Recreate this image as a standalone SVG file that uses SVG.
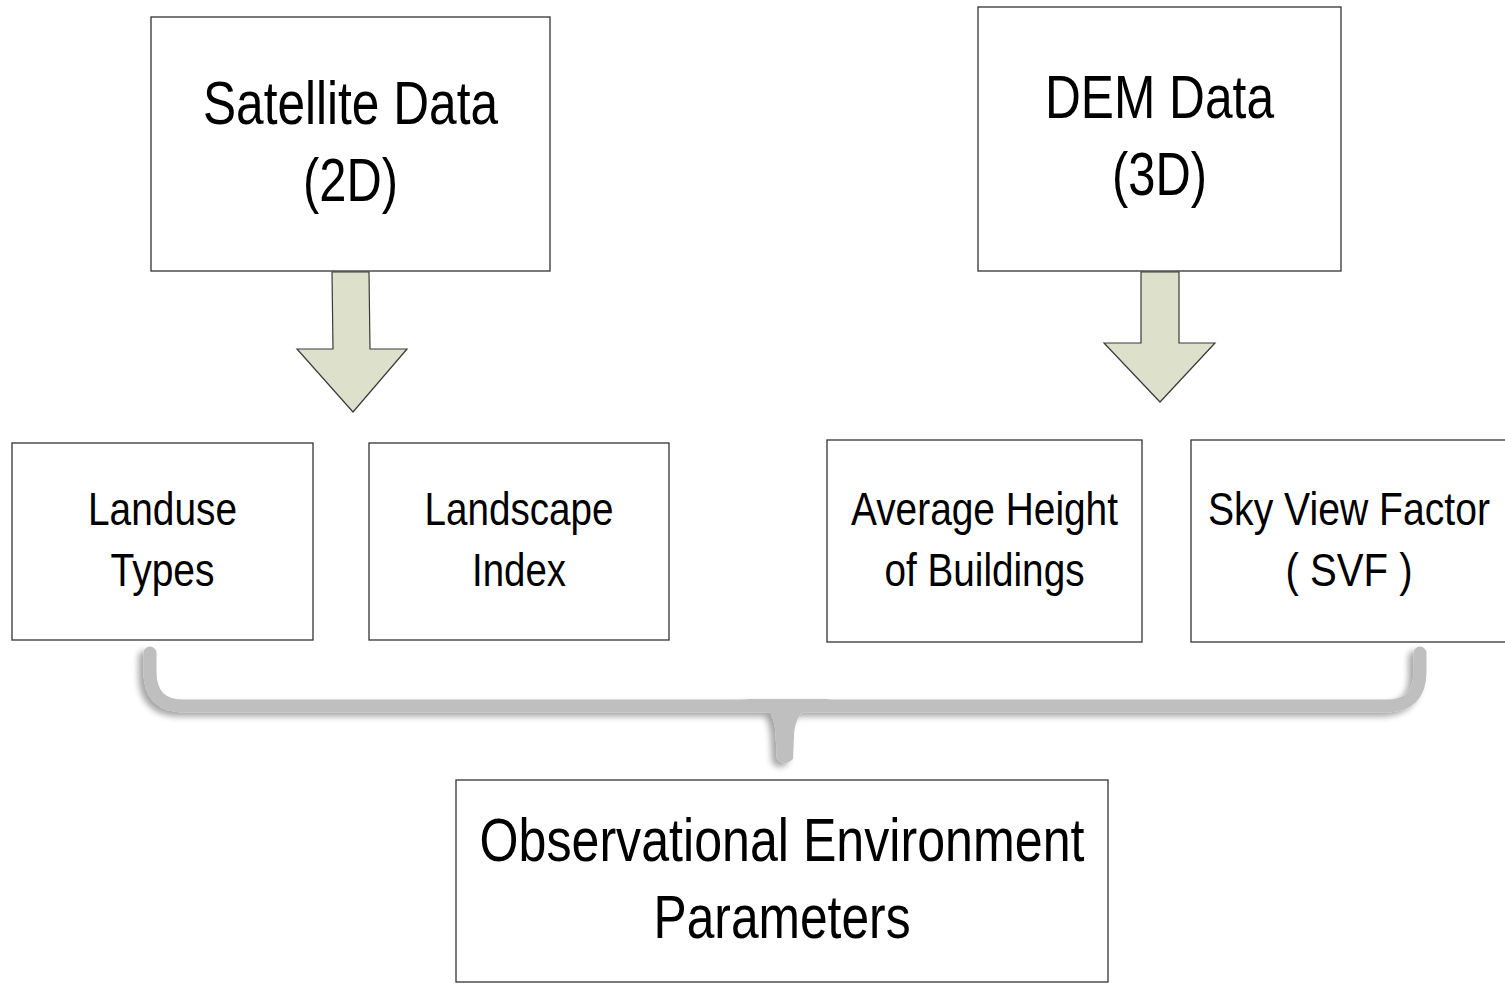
<svg xmlns="http://www.w3.org/2000/svg" width="1505" height="984" viewBox="0 0 1505 984">
<defs>
<style>
.box{fill:#fff;stroke:#333;stroke-width:1.3}
.arrow{fill:#dde0cb;stroke:#3a3a3a;stroke-width:1.2;stroke-linejoin:miter}
.t{font-family:"Liberation Sans Narrow","Liberation Sans",Arial,sans-serif;fill:#000;text-anchor:middle}
.big{font-size:62px}
.mid{font-size:46px}
.obs{font-size:62px}
.brace{fill:none;stroke:#bfbfbf;stroke-width:13;stroke-linecap:round;stroke-linejoin:round}
</style>
<filter id="sh" x="-5%" y="-30%" width="110%" height="160%">
<feGaussianBlur in="SourceAlpha" stdDeviation="3"/>
<feOffset dx="-5" dy="4" result="b"/>
<feComponentTransfer><feFuncA type="linear" slope="0.35"/></feComponentTransfer>
<feMerge><feMergeNode/><feMergeNode in="SourceGraphic"/></feMerge>
</filter>
</defs>
<rect width="1505" height="984" fill="#fff"/>

<g id="connectors">
<path class="arrow" d="M332,272 L369,272 L370,349 L407,349 L353,412 L297,349 L333,349 Z"/>
<path class="arrow" d="M1141,272 L1179,272 L1179,343 L1215,343 L1160,402 L1104,343 L1141,343 Z"/>
<g id="brace" filter="url(#sh)">
<path class="brace" d="M150,653 L150,672 Q150,706 184,706 L1386,706 Q1420,706 1420,672 L1420,653"/>
<path fill="#bfbfbf" d="M738,699 C768,699 776,714 776,742 L777,759 Q785,767 793,759 L794,736 C795,714 806,703 832,699 Z"/>
</g>
</g>

<g id="satellite">
<rect class="box" x="151" y="17" width="399" height="254"/>
<text class="t big" x="350.5" y="124" textLength="295" lengthAdjust="spacingAndGlyphs">Satellite Data</text>
<text class="t big" x="350.5" y="201" textLength="95" lengthAdjust="spacingAndGlyphs">(2D)</text>
</g>

<g id="dem">
<rect class="box" x="978" y="7" width="363" height="264"/>
<text class="t big" x="1159.5" y="118" textLength="229" lengthAdjust="spacingAndGlyphs">DEM Data</text>
<text class="t big" x="1159.5" y="195" textLength="95" lengthAdjust="spacingAndGlyphs">(3D)</text>
</g>

<g id="landuse">
<rect class="box" x="12" y="443" width="301" height="197"/>
<text class="t mid" x="162.5" y="525" textLength="149" lengthAdjust="spacingAndGlyphs">Landuse</text>
<text class="t mid" x="162.5" y="586" textLength="104" lengthAdjust="spacingAndGlyphs">Types</text>
</g>

<g id="landscape">
<rect class="box" x="369" y="443" width="300" height="197"/>
<text class="t mid" x="519" y="525" textLength="189" lengthAdjust="spacingAndGlyphs">Landscape</text>
<text class="t mid" x="519" y="586" textLength="94" lengthAdjust="spacingAndGlyphs">Index</text>
</g>

<g id="height">
<rect class="box" x="827" y="440" width="315" height="202"/>
<text class="t mid" x="984.5" y="525" textLength="267" lengthAdjust="spacingAndGlyphs">Average Height</text>
<text class="t mid" x="984.5" y="586" textLength="200" lengthAdjust="spacingAndGlyphs">of Buildings</text>
</g>

<g id="svf">
<rect class="box" x="1191" y="440" width="316" height="202"/>
<text class="t mid" x="1349" y="525" textLength="282" lengthAdjust="spacingAndGlyphs">Sky View Factor</text>
<text class="t mid" x="1349" y="586" textLength="127" lengthAdjust="spacingAndGlyphs">( SVF )</text>
</g>

<g id="observational">
<rect class="box" x="456" y="780" width="652" height="202"/>
<text class="t obs" x="782" y="861" textLength="605" lengthAdjust="spacingAndGlyphs">Observational Environment</text>
<text class="t obs" x="782" y="938" textLength="257" lengthAdjust="spacingAndGlyphs">Parameters</text>
</g>
</svg>
